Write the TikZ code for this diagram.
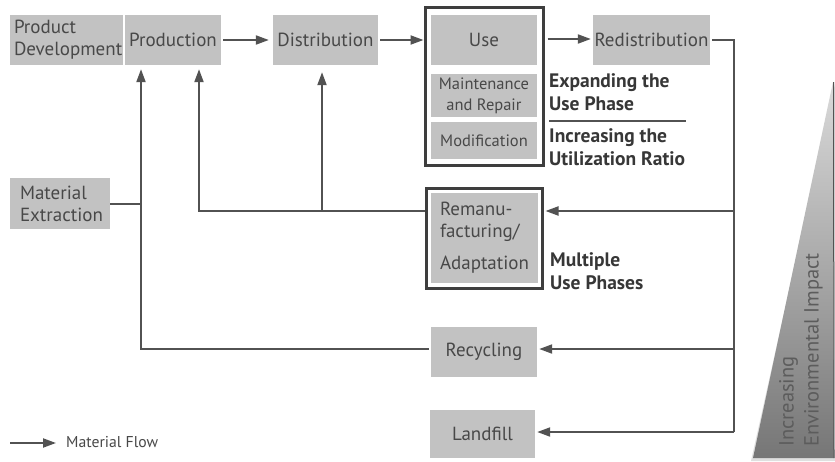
\documentclass[tikz,border=0pt]{standalone}
\usepackage{fontspec}
\setmainfont{PT Sans}
\usetikzlibrary{arrows.meta}
\definecolor{boxgray}{RGB}{194,194,194}
\definecolor{ink}{RGB}{72,72,72}
\definecolor{wire}{RGB}{82,82,82}
\definecolor{framecol}{RGB}{62,62,62}
\definecolor{notecol}{RGB}{55,55,55}
\definecolor{wedgetop}{RGB}{218,218,218}
\definecolor{wedgebot}{RGB}{118,118,118}
\definecolor{wedgetext}{RGB}{92,92,92}
\begin{document}
\begin{tikzpicture}[x=1pt,y=-1pt,
  box/.style={fill=boxgray, text=ink, inner sep=0pt, align=center,
    font=\fontsize{19}{22}\selectfont},
  smallbox/.style={box, font=\fontsize{16.5}{21}\selectfont},
  frame/.style={draw=framecol, line width=3pt, inner sep=0pt},
  wireline/.style={draw=wire, line width=2pt},
  flow/.style={wireline, -{Triangle[length=13pt,width=9pt]}},
  note/.style={text=notecol, inner sep=0pt, anchor=north west, align=left,
    font=\bfseries\fontsize{19.5}{23}\selectfont}]

% page
\fill[white] (0,0) rectangle (835,461);
\useasboundingbox (0,0) rectangle (835,461);

% top row of life-cycle stages
\node[box, minimum width=113pt, minimum height=50pt, text width=105pt, align=left] (pd) at (66.5,40) {Product\\Development};
\node[box, minimum width=96pt, minimum height=50pt] (prod) at (173,40) {Production};
\node[box, minimum width=105pt, minimum height=50pt] (dist) at (325.5,40) {Distribution};

% use phase group
\node[frame, minimum width=118pt, minimum height=158pt] (usegroup) at (484,86) {};
\node[box, minimum width=106pt, minimum height=50pt] (use) at (484,40) {Use};
\node[smallbox, minimum width=106pt, minimum height=43pt] (maint) at (484,95.5) {Maintenance\\and Repair};
\node[smallbox, minimum width=106pt, minimum height=37pt] (modif) at (484,140.5) {Modification};

\node[box, minimum width=117pt, minimum height=50pt] (redist) at (651.5,40) {Redistribution};

% raw material
\node[box, minimum width=100pt, minimum height=51pt, text width=80pt, align=left] (mat) at (60,203.5) {Material\\Extraction};

% remanufacturing
\node[frame, minimum width=116pt, minimum height=100pt] (reman) at (484,238) {};
\node[box, minimum width=107pt, minimum height=90pt, text width=89pt, align=left] (remanin) at (484.5,238) {Remanu-\\facturing/\\[10pt]Adaptation};

% end of life
\node[box, minimum width=106pt, minimum height=50pt] (recyc) at (484,352) {Recycling};
\node[box, minimum width=105pt, minimum height=48pt] (landf) at (482.5,434) {Landfill};

% strategy labels
\node[note] (expand) at (549,73) {Expanding the\\Use Phase};
\node[note] (util) at (549,128) {Increasing the\\Utilization Ratio};
\draw[wireline, line width=1.6pt] (expand.south west |- 0,121) -- (686,121);
\node[note] (multi) at (550,252) {Multiple\\Use Phases};

% guide columns for the return lines
\coordinate (bus) at (734,0);
\coordinate (colA) at (141,0);
\coordinate (colB) at (199,0);
\coordinate (colC) at (322,0);
\coordinate (rl) at ([yshift=27pt]reman.west);
\coordinate (rr) at ([yshift=27pt]reman.east);
\coordinate (cl) at ([yshift=3pt]recyc.west);
\coordinate (cr) at ([yshift=3pt]recyc.east);
\coordinate (ll) at ([yshift=2pt]landf.east);

% forward material flow
\draw[flow, shorten <=2pt, shorten >=4pt] (prod) -- (dist);
\draw[flow, shorten <=2pt] (dist.east) -- (dist.east -| usegroup.west);
\draw[flow, shorten <=3pt, shorten >=2pt] ([yshift=1pt]usegroup.east |- redist) -- ([yshift=1pt]redist.west);

% collection bus on the right
\draw[wireline, shorten <=2pt] (redist.east) -| (bus |- ll);
\draw[flow, shorten >=2pt] (bus |- rr) -- (rr);
\draw[flow, shorten >=2pt] (bus |- cr) -- (cr);
\draw[flow, shorten >=2pt] (bus |- ll) -- (ll);

% return flows on the left
\draw[flow, shorten >=4pt] (rl) -| (colB |- prod.south);
\draw[flow, shorten >=7pt] (colC |- rl) -- (colC |- dist.south);
\draw[flow, shorten <=2pt, shorten >=4pt] (cl) -| (colA |- prod.south);
\draw[wireline] (mat.east) -- (colA |- mat.east);

% environmental impact wedge
\fill[gray!25] (835,84) -- (836,461) -- (751,461) -- cycle;
\shade[top color=wedgetop, bottom color=wedgebot] (833,82) -- (834,458) -- (753,458) -- cycle;
\draw[wire, line width=1pt] (833.5,82) -- (834,458);
\node[rotate=90, anchor=north west, align=left, inner sep=0pt, text=wedgetext,
  font=\fontsize{20.5}{25}\selectfont] (impact) at (779,447) {Increasing\\Environmental Impact};

% legend
\node[anchor=west, inner sep=0pt, text=ink, font=\fontsize{15.7}{18}\selectfont] (legend) at (66,442) {Material Flow};
\coordinate (legstart) at (10,443);
\draw[flow, shorten >=10pt] (legstart) -- (legstart -| legend.west);
\end{tikzpicture}
\end{document}
